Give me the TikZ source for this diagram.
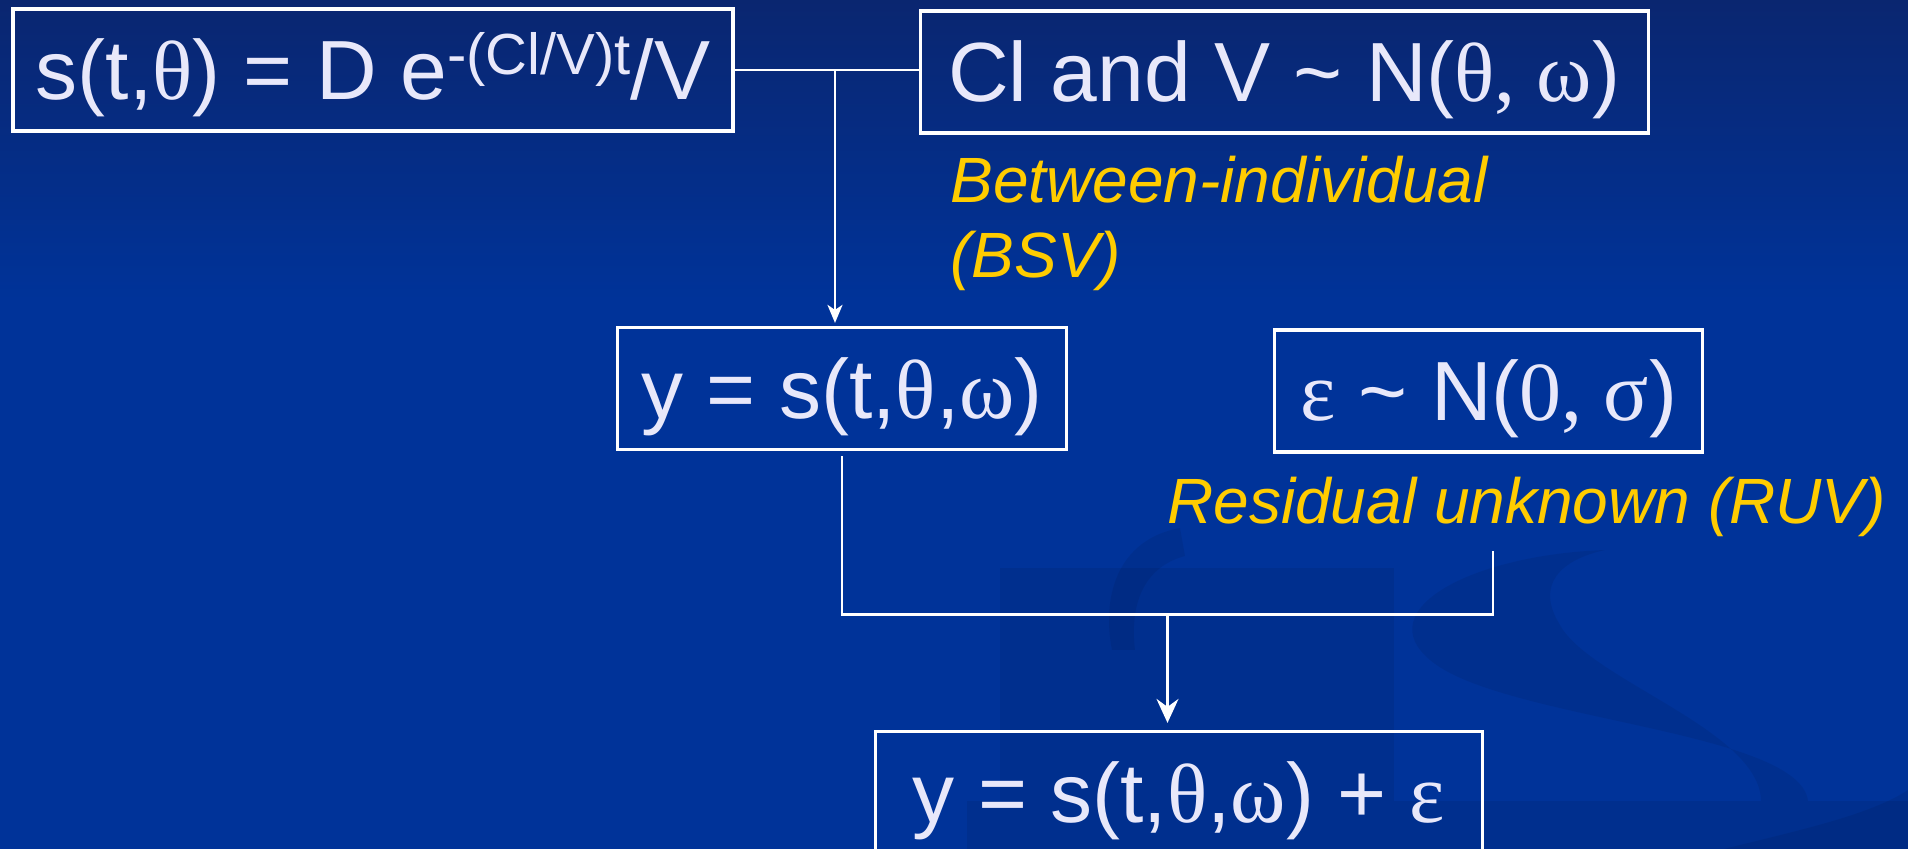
\documentclass[tikz,border=0pt]{standalone}
\usepackage{fontspec}
\setmainfont{Liberation Sans}
\newfontfamily\grfont{Liberation Serif}
\newcommand{\gr}[1]{{\grfont #1}}
\usetikzlibrary{arrows.meta,positioning,calc}
\definecolor{slidebg}{RGB}{0,51,153}
\definecolor{slidetop}{RGB}{10,38,112}
\definecolor{boxtext}{RGB}{232,232,250}
\definecolor{notetext}{RGB}{255,204,0}

\begin{document}
\begin{tikzpicture}[
  x=0.5pt, y=-0.5pt,
  every node/.style={font=\fontsize{42}{50}\selectfont, text=boxtext},
  box/.style={draw=white, line width=1.6pt, inner sep=0pt, minimum height=61pt,
              text height=31.5pt, text depth=1.5pt},
  note/.style={font=\fontsize{32}{37.4}\selectfont\itshape, text=notetext,
               inner sep=0pt, align=left},
  link/.style={draw=white, line width=1.2pt},
  smalltip/.style={-{Stealth[length=9pt, width=7.5pt, inset=2.5pt]}},
  bigtip/.style={-{Stealth[length=12pt, width=11pt, inset=4pt]}},
  logo/.style={fill=black, opacity=0.065}
]
  \useasboundingbox (0,0) rectangle (1908,849);
  \clip (0,0) rectangle (1908,849);
  \shade[top color=slidetop, bottom color=slidebg] (0,0) rectangle (1908,300);
  \fill[slidebg] (0,299) rectangle (1908,849);

  \fill[logo] (1000,568) rectangle (1394,801);
  \fill[logo] (967,801) rectangle (1908,849);
  \fill[logo] (1180,528) .. controls (1115,540) and (1102,600) .. (1112,650)
    -- (1135,650) .. controls (1130,610) and (1140,568) .. (1185,556) -- cycle;
  \fill[logo] (1605,550) .. controls (1470,555) and (1370,610) .. (1430,660)
    .. controls (1500,720) and (1800,730) .. (1808,801) -- (1761,801)
    .. controls (1760,730) and (1590,680) .. (1560,625)
    .. controls (1535,585) and (1560,560) .. (1605,550) -- cycle;
  \fill[logo] (1724,849) .. controls (1800,830) and (1870,815) .. (1908,790)
    -- (1908,849) -- cycle;

  \node[box, minimum width=360pt] (model) at (373,70)
    {s(t,\gr{θ}) = D e\raisebox{12.5pt}{\fontsize{29}{29}\selectfont -(Cl/V)t}/V};
  \node[box, minimum width=364pt, right=92pt of model, yshift=-1pt] (bsv)
    {Cl and V \textasciitilde{} N(\gr{θ, ω})};
  \node[box, minimum width=224.4pt] (out) at (842,388.5)
    {y = s(t,\gr{θ},\gr{ω})};
  \node[box, minimum width=214pt, right=102.5pt of out, yshift=-1.25pt] (ruv)
    {\gr{ε} \textasciitilde{} N(\gr{0, σ})};
  \node[box, minimum width=303.6pt] (total) at (1179,792.5)
    {y = s(t,\gr{θ},\gr{ω}) + \gr{ε}};

  \node[note, anchor=north west] (bsvnote) at (950,155.5)
    {Between-individual\\(BSV)};
  \node[note, anchor=base west] (ruvnote) at (1167,524)
    {Residual unknown (RUV)};

  \coordinate (split) at (835,70);
  \coordinate (corner) at (1493,614.5);
  \coordinate (ruvend) at (1493,551);
  \coordinate (join) at ($(out.south |- corner)!0.5!(corner)$);

  \draw[link] (model.east) -- (model.east -| bsv.west);
  \draw[link, smalltip, shorten >=1.5pt] (split) -- (split |- out.north);
  \draw[link] ([yshift=-2.5pt]out.south) |- (corner) -- (ruvend);
  \draw[link, bigtip, shorten >=3.5pt] (join) -- (join |- total.north);
\end{tikzpicture}
\end{document}
